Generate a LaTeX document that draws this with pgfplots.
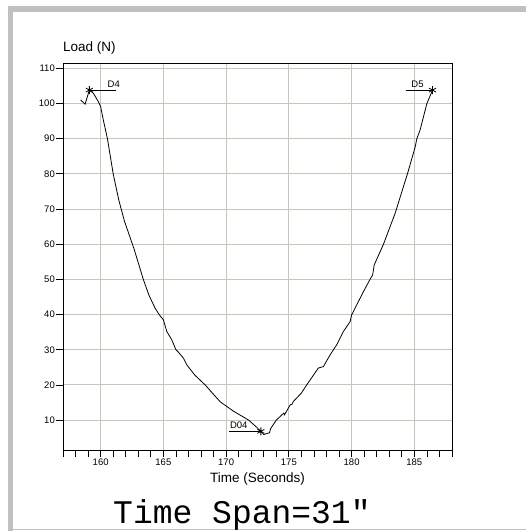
\documentclass[border=0pt]{standalone}
\usepackage{pgfplots}
\pgfplotsset{compat=1.18}
\usepackage{fontspec}
\setmainfont{Liberation Sans}
\newfontfamily\mono{Liberation Mono}
\definecolor{gridc}{RGB}{200,197,186}
\definecolor{framec}{RGB}{192,192,192}
\begin{document}
\begin{tikzpicture}[x=1pt,y=1pt]
  \path[use as bounding box] (0,0) rectangle (526,531);
  % grey frame
  \fill[framec] (8,0) rectangle (13,525);
  \fill[framec] (8,519) rectangle (526,525);
  \fill[framec] (8,0.5) rectangle (526,2);
  \begin{axis}[
      at={(63pt,81pt)}, anchor=south west,
      scale only axis, width=389pt, height=387pt,
      xmin=157, xmax=188, ymin=1.5, ymax=111.5,
      xtick={160,165,...,185},
      minor xtick={157,...,188},
      ytick={10,20,...,110},
      xtick pos=bottom, ytick pos=left,
      tick align=outside,
      major tick length=7pt, minor tick length=7pt,
      every tick/.style={black, line width=0.8pt},
      grid=major,
      major grid style={gridc, line width=1pt},
      axis line style={black, line width=0.9pt},
      /pgf/number format/assume math mode=true,
      /pgf/number format/1000 sep={},
      ticklabel style={font=\fontsize{9.5}{11}\selectfont},
      yticklabel style={inner sep=1pt},
      xticklabel style={inner sep=1.5pt},
      clip=false,
    ]
    % load curve
    \addplot[black, line width=0.8pt] coordinates {
      (158.41,101.0) (158.76,99.8) (159.10,103.8) (159.42,102.9)
      (159.82,100.5) (160.0,99.1) (160.2,95.5) (160.54,90.0)
      (161.0,80.0) (161.45,72.5) (161.9,66.5) (162.65,58.8)
      (163.4,50.0) (163.85,45.5) (164.34,41.8) (164.7,39.8)
      (165.0,38.5) (165.27,35.2) (165.67,32.8) (166.0,30.0)
      (166.2,29.3) (166.6,27.6) (166.87,25.7) (167.5,22.8)
      (168.33,20.0) (169.0,17.3) (169.53,15.2) (170.6,12.5)
      (171.79,10.0) (172.3,8.4) (172.77,6.8)
      (173.0,5.9) (173.45,6.4) (173.55,7.6) (174.0,10.0)
      (174.6,12.0) (174.65,11.5) (175.1,14.3) (175.25,14.5)
      (175.36,15.3) (176.0,17.7) (176.42,20.0) (177.35,24.8)
      (177.75,25.2) (178.28,28.5) (178.81,31.4) (179.35,35.2)
      (179.88,38.0) (180.0,39.9) (180.94,46.5) (181.47,50.0)
      (181.68,51.3) (181.8,54.1) (182.54,60.0) (183.47,68.8)
      (184.45,80.0) (185.07,87.7) (185.2,90.0) (185.46,92.5)
      (186.0,100.0) (186.45,103.8)
    };
    % markers
    \addplot[only marks, mark=asterisk, mark size=4pt, black, line width=0.8pt]
      coordinates {(159.10,103.8) (172.77,6.8) (186.45,103.8)};
    % leader lines
    \addplot[black, line width=0.8pt] coordinates {(159.10,103.8) (161.23,103.8)};
    \addplot[black, line width=0.8pt] coordinates {(170.25,6.8) (172.77,6.8)};
    \addplot[black, line width=0.8pt] coordinates {(184.3,103.8) (186.45,103.8)};
    \node[anchor=base west, inner sep=0pt, font=\fontsize{9.5}{10}\selectfont]
      at (axis cs:160.55,104.6) {D4};
    \node[anchor=base west, inner sep=0pt, font=\fontsize{9.5}{10}\selectfont]
      at (axis cs:170.3,7.6) {D04};
    \node[anchor=base west, inner sep=0pt, font=\fontsize{9.5}{10}\selectfont]
      at (axis cs:184.75,104.6) {D5};
    % axis titles
    \node[anchor=base west, inner sep=0pt, font=\fontsize{13.5}{15}\selectfont]
      at (rel axis cs:0,1) [yshift=11.3pt] {Load (N)};
    \node[anchor=base, inner sep=0pt, font=\fontsize{13.5}{15}\selectfont]
      at (rel axis cs:0.5,0) [yshift=-32pt] {Time (Seconds)};
  \end{axis}
  \node[anchor=base west, inner sep=0pt, font=\mono\fontsize{33}{35}\selectfont]
    at (113,8) {Time Span=31"};
\end{tikzpicture}
\end{document}
